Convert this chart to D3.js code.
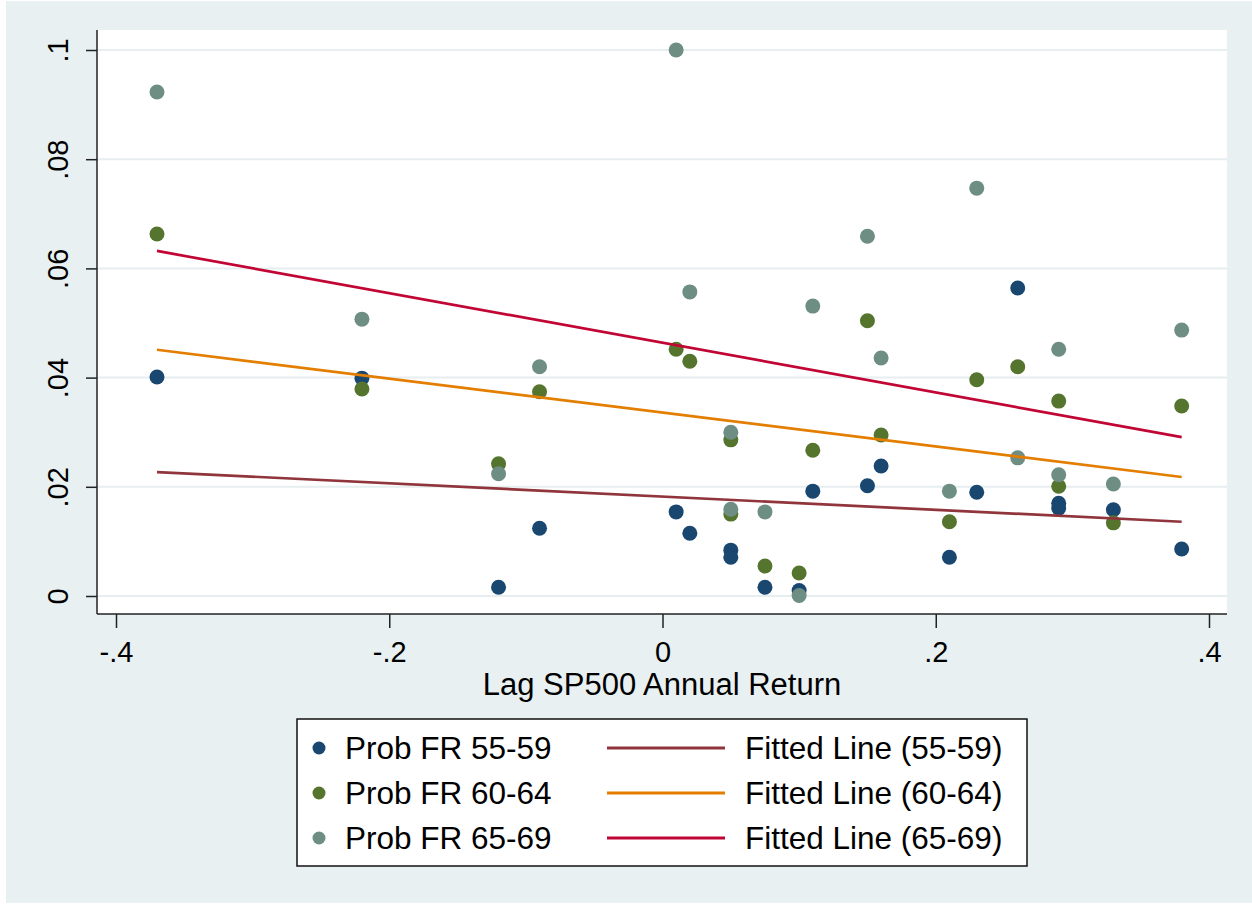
<!DOCTYPE html>
<html>
<head>
<meta charset="utf-8">
<script src="https://cdn.jsdelivr.net/npm/d3@7"></script>
<style>
  html, body { margin: 0; padding: 0; background: #ffffff; }
  svg { display: block; font-family: "Liberation Sans", Arial, sans-serif; }
</style>
</head>
<body>
<div id="chart"></div>
<script>
// shared x values (lagged S&P 500 annual return)
const xValues = [-0.37, -0.22, -0.12, -0.09, 0.01, 0.02, 0.05, 0.05, 0.075, 0.10,
  0.11, 0.15, 0.16, 0.21, 0.23, 0.26, 0.29, 0.29, 0.33, 0.38];

const prob5559 = [0.0401, 0.0399, 0.0016, 0.0124, 0.0154, 0.0115, 0.0084, 0.0071, 0.0016, 0.0010,
  0.0192, 0.0202, 0.0238, 0.0071, 0.0190, 0.0564, 0.0170, 0.0161, 0.0158, 0.0086];
const prob6064 = [0.0663, 0.0379, 0.0242, 0.0374, 0.0452, 0.0430, 0.0286, 0.0150, 0.0055, 0.0042,
  0.0267, 0.0504, 0.0295, 0.0136, 0.0396, 0.0420, 0.0357, 0.0201, 0.0134, 0.0348];
const prob6569 = [0.0923, 0.0507, 0.0224, 0.0420, 0.1000, 0.0557, 0.0300, 0.0159, 0.0154, 0.0001,
  0.0531, 0.0659, 0.0436, 0.0192, 0.0747, 0.0253, 0.0452, 0.0222, 0.0205, 0.0487];

// fitted line end points
const fitX = [-0.37, 0.38];
const fit5559 = [0.0227, 0.0136];
const fit6064 = [0.0451, 0.0218];
const fit6569 = [0.0632, 0.0291];

const scatterNames = ["Prob FR 55-59", "Prob FR 60-64", "Prob FR 65-69"];
const lineNames = ["Fitted Line (55-59)", "Fitted Line (60-64)", "Fitted Line (65-69)"];
const scatterColors = ["#1a476f", "#55752f", "#6e8e84"];
const lineColors = ["#90353b", "#e37e00", "#c10534"];

const xTicks = [-0.4, -0.2, 0, 0.2, 0.4];
const xTickLabels = ["-.4", "-.2", "0", ".2", ".4"];
const yTicks = [0, 0.02, 0.04, 0.06, 0.08, 0.1];
const yTickLabels = ["0", ".02", ".04", ".06", ".08", ".1"];

const width = 1252, height = 906;
const plotBox = { left: 97, right: 1227, top: 30, bottom: 614 };
const font = "Liberation Sans, Arial, sans-serif";

const svg = d3.select("#chart").append("svg")
  .attr("width", width).attr("height", height);

svg.append("rect").attr("x", 6).attr("y", 1).attr("width", width - 6).attr("height", height - 4)
  .attr("fill", "#e8f0f2");
svg.append("rect")
  .attr("x", plotBox.left).attr("y", plotBox.top)
  .attr("width", plotBox.right - plotBox.left).attr("height", plotBox.bottom - plotBox.top)
  .attr("fill", "#ffffff");

const x = d3.scaleLinear().domain([-0.4, 0.4]).range([116, 1209]);
const y = d3.scaleLinear().domain([0, 0.1]).range([596, 50]);

// grid
svg.append("g").selectAll("line").data(yTicks).join("line")
  .attr("x1", plotBox.left).attr("x2", plotBox.right)
  .attr("y1", d => y(d)).attr("y2", d => y(d))
  .attr("stroke", "#e6eef0").attr("stroke-width", 2);

// axes
const xAxis = svg.append("g")
  .attr("transform", `translate(0,${plotBox.bottom})`)
  .call(d3.axisBottom(x).tickValues(xTicks).tickSize(14).tickSizeOuter(0)
    .tickFormat((d, i) => xTickLabels[i]));
xAxis.select(".domain").attr("d", `M${plotBox.left},0H${plotBox.right}`)
  .attr("stroke", "#222").attr("stroke-width", 1.5);
xAxis.selectAll(".tick line").attr("stroke", "#222").attr("stroke-width", 1.5);
xAxis.selectAll(".tick text").attr("y", 48).attr("dy", 0)
  .attr("fill", "#000").style("font-size", "29px").style("font-family", font);

const yAxis = svg.append("g")
  .attr("transform", `translate(${plotBox.left},0)`)
  .call(d3.axisLeft(y).tickValues(yTicks).tickSize(11).tickSizeOuter(0)
    .tickFormat((d, i) => yTickLabels[i]));
yAxis.select(".domain").attr("d", `M0,${plotBox.top}V${plotBox.bottom}`)
  .attr("stroke", "#222").attr("stroke-width", 1.5);
yAxis.selectAll(".tick line").attr("stroke", "#222").attr("stroke-width", 1.5);
yAxis.selectAll(".tick text")
  .attr("x", 0).attr("dy", 0)
  .attr("transform", "translate(-29,0) rotate(-90)")
  .attr("text-anchor", "middle")
  .attr("fill", "#000").style("font-size", "29px").style("font-family", font);

svg.append("text")
  .attr("x", (plotBox.left + plotBox.right) / 2).attr("y", 695)
  .attr("text-anchor", "middle").attr("font-size", 31).attr("fill", "#000")
  .text("Lag SP500 Annual Return");

// scatter points
const series = [prob5559, prob6064, prob6569];
series.forEach((vals, k) => {
  svg.append("g").selectAll("circle")
    .data(vals.map((v, i) => ({ x: xValues[i], y: v })))
    .join("circle")
    .attr("cx", d => x(d.x)).attr("cy", d => y(d.y)).attr("r", 7.5)
    .attr("fill", scatterColors[k]);
});

// fitted lines
const fits = [fit5559, fit6064, fit6569];
const line = d3.line().x(d => x(d[0])).y(d => y(d[1]));
fits.forEach((vals, k) => {
  svg.append("path")
    .attr("d", line(fitX.map((fx, i) => [fx, vals[i]])))
    .attr("fill", "none").attr("stroke", lineColors[k]).attr("stroke-width", 2.7);
});

// legend
const legend = svg.append("g");
legend.append("rect").attr("x", 297).attr("y", 719).attr("width", 730).attr("height", 147)
  .attr("fill", "#ffffff").attr("stroke", "#111").attr("stroke-width", 1.5);
const rowY = [748, 793, 838];
scatterNames.forEach((name, i) => {
  legend.append("circle").attr("cx", 319).attr("cy", rowY[i]).attr("r", 6.5).attr("fill", scatterColors[i]);
  legend.append("text").attr("x", 345).attr("y", rowY[i] + 11).attr("font-size", 31.5).text(name);
  legend.append("line").attr("x1", 607).attr("x2", 725).attr("y1", rowY[i]).attr("y2", rowY[i])
    .attr("stroke", lineColors[i]).attr("stroke-width", 3);
  legend.append("text").attr("x", 745).attr("y", rowY[i] + 11).attr("font-size", 31.5).text(lineNames[i]);
});
</script>
</body>
</html>
